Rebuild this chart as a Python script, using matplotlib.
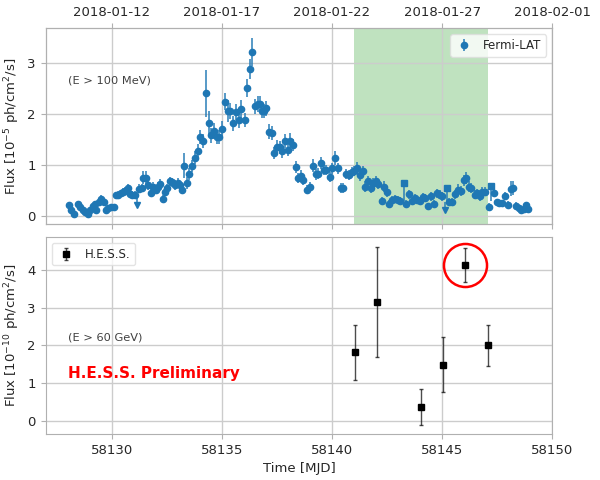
import matplotlib
matplotlib.use("Agg")
import matplotlib.pyplot as plt

# Fermi-LAT light curve (E > 100 MeV), flux in 1e-5 ph/cm2/s
fermi_mjd = [
    58128.05, 58128.16, 58128.31, 58128.46, 58128.56, 58128.69, 58128.81, 58128.91, 58129.02, 58129.14,
    58129.24, 58129.31, 58129.41, 58129.53, 58129.64, 58129.74, 58129.85, 58129.97, 58130.09, 58130.20,
    58130.30, 58130.42, 58130.53, 58130.62, 58130.73, 58130.83, 58130.94, 58131.04, 58131.25, 58131.36,
    58131.44, 58131.56, 58131.66, 58131.78, 58131.89, 58132.01, 58132.11, 58132.21, 58132.31, 58132.42,
    58132.52, 58132.64, 58132.76, 58132.87, 58132.99, 58133.08, 58133.17, 58133.29, 58133.41, 58133.52,
    58133.64, 58133.76, 58133.90, 58134.02, 58134.15, 58134.27, 58134.40, 58134.52, 58134.65, 58134.76,
    58134.88, 58135.00, 58135.15, 58135.27, 58135.39, 58135.51, 58135.63, 58135.76, 58135.89, 58136.03,
    58136.15, 58136.27, 58136.39, 58136.51, 58136.63, 58136.72, 58136.81, 58136.92, 58137.02, 58137.14,
    58137.27, 58137.39, 58137.51, 58137.63, 58137.75, 58137.87, 58137.99, 58138.11, 58138.23, 58138.35,
    58138.46,
    58138.58, 58138.69, 58138.88, 58138.99, 58139.14, 58139.26, 58139.38, 58139.52, 58139.64, 58139.74,
    58139.90, 58140.02, 58140.14, 58140.27, 58140.39, 58140.51, 58140.65, 58140.77, 58140.89, 58141.01,
    58141.15, 58141.27, 58141.39, 58141.51, 58141.63, 58141.75, 58141.87, 58141.99, 58142.11, 58142.25,
    58142.37, 58142.49, 58142.61, 58142.73, 58142.86, 58142.98, 58143.10, 58143.37, 58143.51, 58143.63,
    58143.75, 58143.88, 58144.00, 58144.13, 58144.24, 58144.38, 58144.50, 58144.62, 58144.76, 58144.88,
    58145.00, 58145.33, 58145.45, 58145.60, 58145.72, 58145.85, 58145.97, 58146.09, 58146.21, 58146.33,
    58146.47, 58146.59, 58146.71, 58146.83, 58146.95, 58147.11, 58147.36, 58147.48, 58147.60, 58147.72,
    58147.87, 58147.99, 58148.11, 58148.23, 58148.35, 58148.47, 58148.59, 58148.71, 58148.80, 58148.89,
]
fermi_flux = [
    0.22, 0.12, 0.04, 0.24, 0.18, 0.12, 0.07, 0.04, 0.11, 0.19,
    0.24, 0.11, 0.27, 0.34, 0.27, 0.11, 0.16, 0.18, 0.18, 0.41,
    0.42, 0.45, 0.48, 0.50, 0.55, 0.44, 0.42, 0.42, 0.54, 0.55,
    0.75, 0.75, 0.61, 0.46, 0.58, 0.52, 0.58, 0.63, 0.33, 0.48,
    0.55, 0.68, 0.66, 0.61, 0.65, 0.61, 0.52, 0.99, 0.65, 0.82,
    0.99, 1.15, 1.28, 1.55, 1.48, 2.41, 1.82, 1.59, 1.67, 1.55,
    1.55, 1.71, 2.25, 2.07, 2.07, 1.82, 2.04, 1.89, 2.10, 1.89,
    2.51, 2.89, 3.22, 2.16, 2.20, 2.20, 2.07, 2.07, 2.12, 1.66,
    1.63, 1.24, 1.35, 1.35, 1.27, 1.48, 1.30, 1.48, 1.40, 0.97,
    0.75,
    0.78, 0.71, 0.52, 0.58, 0.99, 0.82, 0.83, 1.05, 0.91, 0.91,
    0.76, 0.94, 1.14, 0.94, 0.55, 0.55, 0.82, 0.81, 0.86, 0.88,
    0.94, 0.80, 0.88, 0.58, 0.68, 0.55, 0.65, 0.68, 0.63, 0.29,
    0.58, 0.47, 0.24, 0.32, 0.34, 0.32, 0.29, 0.24, 0.43, 0.30,
    0.35, 0.32, 0.29, 0.37, 0.35, 0.19, 0.39, 0.24, 0.45, 0.42,
    0.39, 0.27, 0.27, 0.43, 0.52, 0.50, 0.70, 0.75, 0.58, 0.55,
    0.42, 0.45, 0.39, 0.48, 0.48, 0.18, 0.46, 0.27, 0.25, 0.25,
    0.39, 0.22, 0.54, 0.55, 0.20, 0.16, 0.12, 0.14, 0.21, 0.14,
]
fermi_err = [
    0.05, 0.05, 0.04, 0.06, 0.05, 0.05, 0.04, 0.04, 0.05, 0.05,
    0.06, 0.05, 0.06, 0.07, 0.06, 0.05, 0.05, 0.05, 0.05, 0.06,
    0.07, 0.07, 0.07, 0.07, 0.08, 0.07, 0.07, 0.07, 0.08, 0.08,
    0.13, 0.13, 0.09, 0.07, 0.08, 0.08, 0.08, 0.09, 0.08, 0.08,
    0.08, 0.09, 0.09, 0.09, 0.09, 0.08, 0.08, 0.25, 0.12, 0.12,
    0.12, 0.13, 0.13, 0.14, 0.14, 0.47, 0.25, 0.15, 0.15, 0.14,
    0.14, 0.15, 0.17, 0.22, 0.16, 0.14, 0.16, 0.15, 0.18, 0.14,
    0.18, 0.20, 0.28, 0.15, 0.15, 0.16, 0.14, 0.14, 0.15, 0.14,
    0.14, 0.12, 0.14, 0.13, 0.12, 0.14, 0.12, 0.15, 0.12, 0.12,
    0.10,
    0.12, 0.10, 0.09, 0.09, 0.13, 0.11, 0.11, 0.12, 0.10, 0.10,
    0.10, 0.11, 0.14, 0.11, 0.09, 0.09, 0.10, 0.10, 0.10, 0.10,
    0.12, 0.11, 0.11, 0.10, 0.10, 0.09, 0.09, 0.10, 0.09, 0.08,
    0.10, 0.09, 0.07, 0.08, 0.08, 0.08, 0.08, 0.08, 0.09, 0.08,
    0.08, 0.08, 0.08, 0.09, 0.08, 0.07, 0.09, 0.08, 0.09, 0.09,
    0.09, 0.08, 0.08, 0.09, 0.10, 0.10, 0.11, 0.12, 0.10, 0.10,
    0.09, 0.09, 0.09, 0.09, 0.09, 0.07, 0.09, 0.07, 0.07, 0.07,
    0.08, 0.07, 0.14, 0.14, 0.07, 0.06, 0.06, 0.06, 0.06, 0.05,
]

# bins drawn as squares (low significance) and upper limits
sq_mjd = [58143.26, 58145.24, 58147.24]
sq_flux = [0.65, 0.55, 0.60]
sq_err_lo = [0.35, 0.30, 0.30]
sq_err_hi = [0.05, 0.05, 0.05]
ul_mjd = [58131.15, 58145.11]
ul_flux = [0.22, 0.11]
ul_len = [0.17, 0.17]

# H.E.S.S. nightly fluxes (E > 60 GeV), 1e-10 ph/cm2/s
hess_mjd = [58141.05, 58142.03, 58144.06, 58145.04, 58146.04, 58147.07]
hess_flux = [1.82, 3.15, 0.36, 1.49, 4.13, 2.00]
hess_err = [0.73, 1.47, 0.47, 0.74, 0.45, 0.54]

# H.E.S.S. observation window
window = (58141.0, 58147.07)

top_ticks = [58130, 58135, 58140, 58145, 58150]
top_labels = ["2018-01-12", "2018-01-17", "2018-01-22", "2018-01-27", "2018-02-01"]

blue = "#1f77b4"
plt.rcParams["font.size"] = 9.5
plt.rcParams["axes.edgecolor"] = "#b0b0b0"
plt.rcParams["xtick.color"] = "#b0b0b0"
plt.rcParams["ytick.color"] = "#b0b0b0"
plt.rcParams["xtick.labelcolor"] = "#262626"
plt.rcParams["ytick.labelcolor"] = "#262626"

fig = plt.figure(figsize=(6, 4.8), dpi=100)
ax1 = fig.add_axes([0.076, 0.533, 0.8445, 0.408])
ax2 = fig.add_axes([0.076, 0.096, 0.8445, 0.41], sharex=ax1)

# top panel: Fermi-LAT
ax1.axvspan(window[0], window[1], color="tab:green", alpha=0.3, lw=0, zorder=0)
ax1.errorbar(fermi_mjd, fermi_flux, yerr=fermi_err, fmt="o", color=blue, ms=4.5,
             ecolor=(0.12, 0.47, 0.71, 0.75), elinewidth=1.4, label="Fermi-LAT", zorder=3)
ax1.errorbar(sq_mjd, sq_flux, yerr=[sq_err_lo, sq_err_hi], fmt="s", color=blue, ms=4.5,
             ecolor=(0.12, 0.47, 0.71, 0.75), elinewidth=1.4, zorder=3)
ax1.vlines(ul_mjd, ul_flux, [f + l for f, l in zip(ul_flux, ul_len)],
           color=(0.12, 0.47, 0.71, 0.75), lw=1.4, zorder=3)
ax1.plot(ul_mjd, ul_flux, "v", color=blue, ms=4, zorder=3)

ax1.set_ylim(-0.16, 3.69)
ax1.set_yticks([0, 1, 2, 3])
ax1.set_ylabel("Flux [$10^{-5}$ ph/cm$^2$/s]", color="#262626")
ax1.grid(True, color="#cccccc", lw=1)
ax1.set_axisbelow(True)
ax1.tick_params(labelbottom=False)
ax1.text(58128.0, 2.67, "(E > 100 MeV)", fontsize=8.2, color="#404040", va="center")
leg1 = ax1.legend(loc="upper right", fontsize=8.5, framealpha=0.8, edgecolor="#dddddd",
                  handlelength=1.6)
for t in leg1.get_texts():
    t.set_color("#262626")

# date axis on top
ax_top = ax1.twiny()
ax_top.set_xlim(58127.0, 58149.95)
ax_top.set_xticks(top_ticks)
ax_top.set_xticklabels(top_labels)

# bottom panel: H.E.S.S.
ax2.errorbar(hess_mjd, hess_flux, yerr=hess_err, fmt="s", color="black", ms=4.5,
             ecolor=(0, 0, 0, 0.7), elinewidth=1, capsize=1.5, label="H.E.S.S.", zorder=3)
ax2.plot(hess_mjd[4], hess_flux[4], "o", ms=31, mfc="none", mec="red", mew=1.8)
ax2.set_xlim(58127.0, 58149.95)
ax2.set_ylim(-0.35, 4.87)
ax2.set_xticks([58130, 58135, 58140, 58145, 58150])
ax2.set_yticks([0, 1, 2, 3, 4])
ax2.grid(True, color="#cccccc", lw=1)
ax2.set_axisbelow(True)
ax2.set_ylabel("Flux [$10^{-10}$ ph/cm$^2$/s]", color="#262626")
ax2.set_xlabel("Time [MJD]", color="#262626")
ax2.text(58128.0, 2.2, "(E > 60 GeV)", fontsize=8.2, color="#404040", va="center")
ax2.text(58128.0, 1.25, "H.E.S.S. Preliminary", fontsize=11, color="red",
         fontweight="bold", va="center")
leg2 = ax2.legend(loc="upper left", fontsize=8.5, framealpha=0.8, edgecolor="#dddddd",
                  handlelength=1.6)
for t in leg2.get_texts():
    t.set_color("#262626")

fig.savefig("out.png", dpi=100)
